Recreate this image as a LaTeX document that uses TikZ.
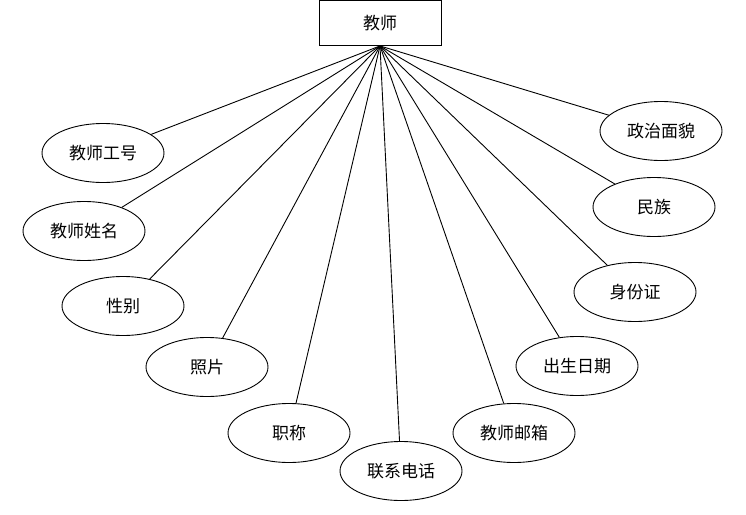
\documentclass[tikz,border=0pt]{standalone}
\usepackage{fontspec}
\setmainfont{Noto Sans CJK SC}
\usetikzlibrary{shapes.geometric}

\begin{document}
\begin{tikzpicture}[x=1pt,y=-1pt,
        entity/.style={draw,line width=0.9pt,minimum width=122pt,minimum height=45pt,inner sep=0pt,font=\fontsize{17}{17}\selectfont},
        attr/.style={draw,ellipse,line width=0.9pt,minimum width=122pt,minimum height=59pt,inner sep=0pt,font=\fontsize{17}{17}\selectfont}]
    \useasboundingbox (0,0) rectangle (746,514);                 % Page frame
    \node[entity] (teacher) at (380,23) {教师};                  % Entity
    \coordinate (hub) at (teacher.south);                        % Where all lines meet
    % Attributes, left side
    \node[attr] (tid)    at (103,153) {教师工号};
    \node[attr] (tname)  at (84,231)  {教师姓名};
    \node[attr] (sex)    at (123,306) {性别};
    \node[attr] (photo)  at (207,367) {照片};
    \node[attr] (title)  at (289,433) {职称};
    \node[attr] (phone)  at (401,471) {联系电话};
    % Attributes, right side
    \node[attr] (mail)   at (514,433) {教师邮箱};
    \node[attr] (birth)  at (577,366) {出生日期};
    \node[attr] (idcard) at (635,292) {身份证};
    \node[attr] (nation) at (654,207) {民族};
    \node[attr] (party)  at (661,131) {政治面貌};
    % Connectors
    \foreach \a in {tid,tname,sex,photo,title,phone,mail,birth,idcard,nation,party}
        \draw[line width=0.9pt] (hub) -- (\a);
\end{tikzpicture}
\end{document}
